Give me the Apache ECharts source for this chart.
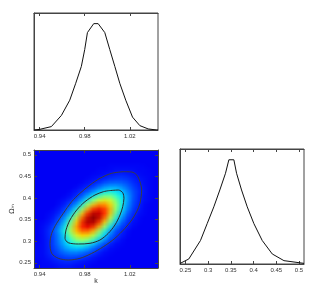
<!DOCTYPE html>
<html><head><meta charset="utf-8">
<script src="https://cdn.jsdelivr.net/npm/echarts@6/dist/echarts.min.js"></script>
<style>
html,body{margin:0;padding:0;background:#fff}
#wrap{position:relative;width:318px;height:289px;overflow:hidden}
#h{position:absolute;left:34px;top:150px;width:22px;height:27px;transform-origin:0 0;transform:scale(5.6364,4.3704)}
#c{position:absolute;left:0;top:0;width:318px;height:289px}
</style>
</head><body><div id="wrap"><div id="h"></div><div id="c"></div></div>
<script>
// ---- data ----
const kTicks = [0.94, 0.98, 1.02];
const omTicks = [0.25, 0.3, 0.35, 0.4, 0.45, 0.5];
const kRange = [0.935, 1.045];
const omRange = [0.238, 0.511];

// marginal of k (top panel)
const kX    = [0.935,0.94,0.9504,0.9593,0.9667,0.972,0.977,0.98,0.9824,0.988,0.9919,0.9978,1.0022,1.0067,1.0111,1.0164,1.0224,1.0289,1.0363,1.0437,1.045];
const kDens = [0,0.006,0.032,0.137,0.28,0.439,0.598,0.757,0.916,1.0,1.0,0.916,0.757,0.598,0.439,0.28,0.121,0.041,0.01,0,0];

// marginal of Omega_m (right panel)
const omX    = [0.238,0.2574,0.2831,0.2978,0.3125,0.3257,0.3382,0.3456,0.3566,0.3625,0.3735,0.386,0.4007,0.419,0.4411,0.4668,0.511];
const omDens = [0.005,0.048,0.225,0.386,0.547,0.708,0.868,0.997,0.997,0.868,0.708,0.547,0.386,0.225,0.096,0.032,0.006];

// contours (k, Omega_m)
const innerK  = [1.0009,1.0098,1.0137,1.0148,1.0137,1.0113,1.0068,1.0009,0.9935,0.9847,0.9743,0.9654,0.9625,0.9634,0.9669,0.9729,0.9802,0.9891,0.9965,1.0009];
const innerOm = [0.4168,0.4184,0.4122,0.3992,0.3798,0.3606,0.3375,0.3182,0.3027,0.2951,0.2935,0.2965,0.3067,0.3259,0.349,0.3722,0.3914,0.4069,0.4145,0.4168];
const outerK  = [1.0142,1.0217,1.0261,1.029,1.0305,1.029,1.0261,1.0217,1.0157,1.0068,0.9965,0.9862,0.9758,0.9654,0.9566,0.9507,0.9492,0.9507,0.9551,0.961,0.9684,0.9758,0.9847,0.9935,1.0039,1.0142];
const outerOm = [0.4608,0.4601,0.4532,0.4376,0.4184,0.3877,0.3683,0.349,0.3298,0.3067,0.2872,0.2718,0.2604,0.2565,0.2604,0.2718,0.2951,0.3182,0.3414,0.3645,0.3914,0.4108,0.43,0.4455,0.4571,0.4608];

// 2D density (rows bottom -> top, 22 columns across k), 0..100
const densRows = [
 [0,1,1,1,2,2,2,1,1,1,0,0,0,0,0,0,0,0,0,0,0,0],
 [0,1,1,2,3,4,4,3,2,1,1,0,0,0,0,0,0,0,0,0,0,0],
 [1,1,2,4,5,6,7,6,5,4,2,1,1,0,0,0,0,0,0,0,0,0],
 [1,1,3,5,8,10,12,12,10,8,5,3,1,1,0,0,0,0,0,0,0,0],
 [1,1,3,6,10,15,18,19,18,15,10,6,3,1,1,0,0,0,0,0,0,0],
 [1,1,3,7,12,19,25,29,29,25,19,12,7,3,1,1,0,0,0,0,0,0],
 [0,1,3,7,14,22,32,40,43,40,32,22,14,7,3,1,0,0,0,0,0,0],
 [0,1,3,7,13,24,37,49,57,57,49,37,24,13,7,3,1,0,0,0,0,0],
 [0,1,4,8,17,30,46,62,71,71,62,46,30,17,8,4,1,0,0,0,0,0],
 [0,1,3,7,14,27,45,65,80,86,80,65,45,27,14,7,3,1,0,0,0,0],
 [0,1,2,5,11,22,40,61,81,94,94,81,61,40,22,11,5,2,1,0,0,0],
 [0,0,1,3,8,17,32,52,75,93,100,93,75,52,32,17,8,3,1,0,0,0],
 [0,0,1,2,5,11,23,41,63,83,96,96,83,63,41,23,11,5,2,1,0,0],
 [0,0,0,1,3,7,15,29,47,68,84,90,84,68,47,29,15,7,3,1,0,0],
 [0,0,0,0,1,4,9,18,32,50,66,76,76,66,50,32,18,9,4,1,0,0],
 [0,0,0,0,1,2,5,10,20,33,47,58,63,58,47,33,20,10,5,2,1,0],
 [0,0,0,0,0,1,2,5,11,20,30,40,47,47,40,30,20,11,5,2,1,0],
 [0,0,0,0,0,0,1,3,6,11,18,25,31,34,31,25,18,11,6,3,1,0],
 [0,0,0,0,0,0,0,1,3,5,9,14,19,22,22,19,14,9,5,3,1,0],
 [0,0,0,0,0,0,0,0,1,2,4,7,11,13,14,13,11,7,4,2,1,0],
 [0,0,0,0,0,0,0,0,0,1,2,3,5,7,8,8,7,5,3,2,1,0],
 [0,0,0,0,0,0,0,0,0,0,1,1,2,3,4,5,4,3,2,1,1,0],
 [0,0,0,0,0,0,0,0,0,0,0,1,1,1,2,2,2,2,1,1,1,0],
 [0,0,0,0,0,0,0,0,0,0,0,0,0,1,1,1,1,1,1,1,0,0],
 [0,0,0,0,0,0,0,0,0,0,0,0,0,0,0,0,0,0,0,0,0,0],
 [0,0,0,0,0,0,0,0,0,0,0,0,0,0,0,0,0,0,0,0,0,0],
 [0,0,0,0,0,0,0,0,0,0,0,0,0,0,0,0,0,0,0,0,0,0]
];

// ---- build ----
const nCols = densRows[0].length, nRows = densRows.length;
const heat = [];
densRows.forEach((row, i) => row.forEach((v, j) => heat.push([j, i, v])));
const pairs = (xs, ys) => xs.map((x, i) => [x, ys[i]]);

const jet = ['#0000f5','#002dff','#0059ff','#0086ff','#00b3ff','#00dfff','#0dfff2','#39ffc6','#66ff99','#93ff6c','#bfff40','#ecff13','#ffe600','#ffb900','#ff8c00','#ff6000','#ff3300','#ff0600','#d90000','#ac0000','#800000'];

// heatmap: one pixel per cell, smoothly enlarged onto the plot box
const hChart = echarts.init(document.getElementById('h'), null, {renderer: 'canvas', devicePixelRatio: 1, width: nCols, height: nRows});
hChart.setOption({
  animation: false,
  grid: {left: 0, right: 0, top: 0, bottom: 0},
  xAxis: {type: 'category', data: [...Array(nCols).keys()], show: false},
  yAxis: {type: 'category', data: [...Array(nRows).keys()], show: false},
  visualMap: {type: 'continuous', show: false, min: 0, max: 100, inRange: {color: jet}},
  series: [{type: 'heatmap', data: heat, itemStyle: {borderWidth: 0}, emphasis: {disabled: true}}]
});

const FONT = 'Liberation Sans';
const lab = {fontSize: 6, color: '#333', fontFamily: FONT};
const edge = {show: true, lineStyle: {color: '#444', width: 1}};
const tick = vals => ({show: true, inside: true, length: 3, customValues: vals, lineStyle: {color: '#444'}});

const chart = echarts.init(document.getElementById('c'), null, {renderer: 'canvas'});
chart.setOption({
  animation: false,
  backgroundColor: 'transparent',
  grid: [
    {left: 34, top: 13, width: 124, height: 117, show: true, borderColor: '#444', borderWidth: 1},
    {left: 34, top: 150, width: 124, height: 118},
    {left: 180, top: 149, width: 124, height: 115, show: true, borderColor: '#444', borderWidth: 1}
  ],
  xAxis: [
    {gridIndex: 0, type: 'value', min: kRange[0], max: kRange[1], axisLine: edge, splitLine: {show: false},
     axisTick: tick(kTicks), axisLabel: Object.assign({customValues: kTicks, margin: 3}, lab)},
    {gridIndex: 0, type: 'value', position: 'top', min: kRange[0], max: kRange[1], axisLine: edge, splitLine: {show: false},
     axisTick: tick(kTicks), axisLabel: {show: false}},
    {gridIndex: 1, type: 'value', min: kRange[0], max: kRange[1], axisLine: edge, splitLine: {show: false},
     axisTick: tick(kTicks), axisLabel: Object.assign({customValues: kTicks, margin: 3}, lab),
     name: 'k', nameLocation: 'middle', nameGap: 9, nameTextStyle: {fontSize: 7, color: '#333', fontFamily: FONT}},
    {gridIndex: 1, type: 'value', position: 'top', min: kRange[0], max: kRange[1], axisLine: edge, splitLine: {show: false},
     axisTick: tick(kTicks), axisLabel: {show: false}},
    {gridIndex: 2, type: 'value', min: omRange[0], max: omRange[1], axisLine: edge, splitLine: {show: false},
     axisTick: tick(omTicks), axisLabel: Object.assign({customValues: omTicks, margin: 3}, lab)},
    {gridIndex: 2, type: 'value', position: 'top', min: omRange[0], max: omRange[1], axisLine: edge, splitLine: {show: false},
     axisTick: tick(omTicks), axisLabel: {show: false}}
  ],
  yAxis: [
    {gridIndex: 0, type: 'value', min: 0, max: 1.1, axisLine: edge, axisTick: {show: false}, axisLabel: {show: false}, splitLine: {show: false}},
    {gridIndex: 1, type: 'value', min: omRange[0], max: omRange[1], axisLine: edge, splitLine: {show: false},
     axisTick: tick(omTicks), axisLabel: Object.assign({customValues: omTicks, margin: 3}, lab),
     name: 'Ωₘ', nameLocation: 'middle', nameRotate: 90, nameGap: 16, nameTextStyle: {fontSize: 7, color: '#333', fontFamily: 'DejaVu Sans'}},
    {gridIndex: 1, type: 'value', position: 'right', min: omRange[0], max: omRange[1], axisLine: edge, splitLine: {show: false},
     axisTick: tick(omTicks), axisLabel: {show: false}},
    {gridIndex: 2, type: 'value', min: 0, max: 1.1, axisLine: edge, axisTick: {show: false}, axisLabel: {show: false}, splitLine: {show: false}}
  ],
  series: [
    {type: 'line', xAxisIndex: 0, yAxisIndex: 0, data: pairs(kX, kDens), symbol: 'none',
     lineStyle: {color: '#111', width: 1}},
    {type: 'line', xAxisIndex: 2, yAxisIndex: 1, data: pairs(outerK, outerOm), symbol: 'none', smooth: 0.3,
     lineStyle: {color: '#3c3c3c', width: 1}},
    {type: 'line', xAxisIndex: 2, yAxisIndex: 1, data: pairs(innerK, innerOm), symbol: 'none', smooth: 0.3,
     lineStyle: {color: '#2a2a2a', width: 1}},
    {type: 'line', xAxisIndex: 4, yAxisIndex: 3, data: pairs(omX, omDens), symbol: 'none',
     lineStyle: {color: '#111', width: 1}}
  ]
});
</script></body></html>
